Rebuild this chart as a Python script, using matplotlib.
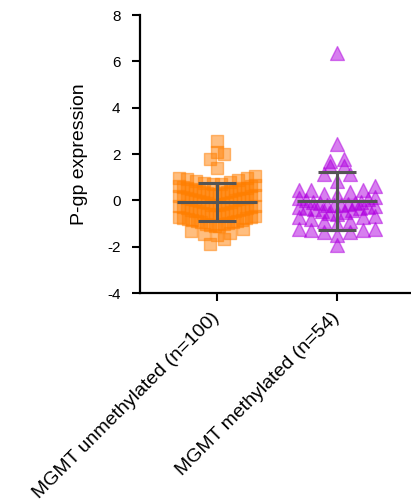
import numpy as np
import matplotlib
matplotlib.use("Agg")
import matplotlib.pyplot as plt

plt.rcParams['font.family'] = ['Liberation Sans', 'DejaVu Sans']
plt.rcParams['axes.unicode_minus'] = False

# data
groups = ['MGMT unmethylated (n=100)', 'MGMT methylated (n=54)']

unmethylated = [2.56, 2.1, 2.0, 1.8, 1.4, 1.05, 0.98,
                0.95, 0.9, 0.86, 0.82, 0.78, 0.75, 0.72, 0.69, 0.66, 0.63,
                0.6, 0.58, 0.55, 0.53, 0.5, 0.48, 0.45, 0.43, 0.4, 0.38,
                0.36, 0.33, 0.31, 0.29, 0.27, 0.24, 0.22, 0.2, 0.17, 0.15,
                0.12, 0.1, 0.07, 0.05, 0.02, 0.0, -0.03, -0.05, -0.08, -0.1,
                -0.13, -0.15, -0.18, -0.2, -0.23, -0.25, -0.28, -0.3, -0.33, -0.35,
                -0.38, -0.4, -0.43, -0.45, -0.48, -0.5, -0.53, -0.55, -0.58, -0.6,
                -0.63, -0.65, -0.68, -0.7, -0.73, -0.75, -0.78, -0.8, -0.83, -0.85,
                -0.88, -0.9, -0.93, -0.95, -0.98, -1.0, -1.03, -1.06, -1.09, -1.12,
                0.4, 0.1, -0.2, -0.45, 0.55, -0.6,
                -1.22, -1.32, -1.41, -1.44, -1.48, -1.69, -1.9]

methylated = [6.35, 2.44, 1.77, 1.68, 1.5, 1.47, 1.12, 1.12, 0.83, 0.6,
              0.46, 0.43, 0.43, 0.36, 0.29, 0.25,
              0.1, 0.05, 0.0, -0.05, -0.1, -0.12, -0.15, -0.18, -0.2,
              -0.22, -0.25, -0.28, -0.3, -0.33, -0.35, -0.38, -0.4, -0.45,
              -0.5, -0.55, 0.15, -0.08,
              -0.6, -0.69, -0.72, -0.72, -0.79, -0.89, -0.89, -1.0,
              -1.22, -1.22, -1.26, -1.29, -1.36, -1.36, -1.51, -1.94]


def swarm(vals, bin_h=0.45, step=0.11, half=0.32):
    # prism-like scatter: points in one bin are spread sideways, lowest in the middle
    vals = np.asarray(vals)
    off = np.zeros(len(vals))
    bins = np.round(vals / bin_h)
    for b in np.unique(bins):
        idx = np.where(bins == b)[0]
        idx = idx[np.argsort(vals[idx])]
        n = len(idx)
        s = step if n < 2 else min(step, 2 * half / (n - 1))
        slots = (np.arange(n) - (n - 1) / 2) * s
        order = np.argsort(np.abs(slots) + 1e-9 * np.arange(n)[::-1] * np.sign(slots))
        off[idx] = slots[order]
    return off


fig = plt.figure(figsize=(4.11, 4.99), dpi=100)
ax = fig.add_axes([0.3406, 0.4128, 0.657, 0.5571])

styles = [('s', '#ff7f00', 80), ('^', '#b000e0', 100)]
for x, (vals, (mk, col, sz)) in enumerate(zip([unmethylated, methylated], styles)):
    vals = np.asarray(vals)
    ax.scatter(x + swarm(vals), vals, marker=mk, s=sz, facecolor=col,
               edgecolor=col, alpha=0.5, linewidths=1, zorder=2)
    m = vals.mean()
    sd = vals.std(ddof=1)
    ax.hlines(m, x - 0.33, x + 0.33, color='#555555', lw=2.2, zorder=3)
    ax.errorbar(x, m, yerr=sd, color='#555555', lw=2.2, capsize=14,
                capthick=2.2, zorder=3)

ax.set_xlim(-0.642, 1.608)
ax.set_ylim(-4, 8)
ax.set_yticks(range(-4, 9, 2))
ax.set_xticks([0, 1])
ax.set_xticklabels(groups, rotation=45, ha='right', va='center',
                   rotation_mode='anchor', fontsize=14)
ax.set_ylabel('P-gp expression', fontsize=14, labelpad=14)
ax.tick_params(axis='y', labelsize=11, width=1.5, length=6, pad=8)
ax.tick_params(axis='x', width=1.5, length=6, pad=10)
for sp in ['top', 'right']:
    ax.spines[sp].set_visible(False)
for sp in ['left', 'bottom']:
    ax.spines[sp].set_linewidth(1.6)

fig.savefig('out.png', dpi=100)
